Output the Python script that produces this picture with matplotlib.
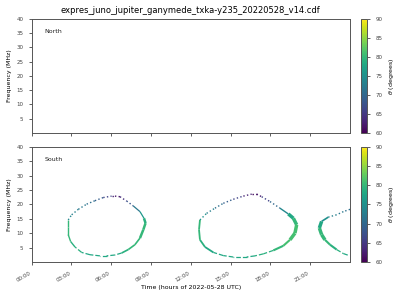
import matplotlib.pyplot as plt
import numpy as np
from matplotlib.collections import LineCollection
from matplotlib.cm import ScalarMappable
from matplotlib.colors import Normalize

title = 'expres_juno_jupiter_ganymede_txka-y235_20220528_v14.cdf'
hemispheres = ['North', 'South']
tick_hours = [0, 3, 6, 9, 12, 15, 18, 21]
tick_labels = ['00:00', '03:00', '06:00', '09:00', '12:00', '15:00', '18:00', '21:00']
freq_ticks = [5, 10, 15, 20, 25, 30, 35, 40]
theta_ticks = [60, 65, 70, 75, 80, 85, 90]

# South hemisphere arcs (time in hours, frequency in MHz, theta in degrees)
loop1_t = [2.76, 3.02, 3.52, 4.15, 4.77, 5.40, 6.03, 6.28, 6.66, 7.16, 7.66, 8.17,
           8.47, 8.59, 8.42, 8.17, 7.79, 7.29, 6.79, 6.28, 5.65, 5.15, 4.40, 3.77,
           3.27, 2.94, 2.76, 2.76, 2.76]
loop1_f = [14.6, 16.4, 18.3, 20.1, 21.3, 22.4, 22.9, 22.9, 22.7, 21.2, 19.5, 17.5,
           15.2, 13.5, 11.2, 8.3, 6.0, 4.3, 3.1, 2.4, 2.1, 2.1, 2.5, 3.3,
           5.2, 7.1, 9.5, 12.3, 14.6]
loop1_th = [74, 73, 72, 71, 69, 66, 63, 62, 64, 68, 72, 76,
            79, 80, 80, 80, 80, 79, 78, 78, 78, 78, 78, 79,
            79, 80, 80, 80, 80]

loop2_t = [12.69, 13.19, 13.82, 14.45, 15.20, 15.96, 16.59, 16.96, 17.34, 17.97, 18.72,
           19.35, 19.73, 19.98, 19.85, 19.48, 18.97, 18.22, 17.47, 16.84, 16.21,
           15.20, 14.45, 13.70, 13.07, 12.69, 12.62, 12.69]
loop2_f = [14.6, 16.9, 18.7, 20.4, 21.8, 22.9, 23.6, 23.6, 22.7, 21.0, 18.7,
           16.7, 15.2, 12.9, 10.0, 7.7, 5.6, 4.0, 2.8, 2.1, 1.7,
           1.7, 2.2, 3.3, 5.2, 7.7, 11.2, 14.6]
loop2_th = [75, 73, 71, 69, 66, 63, 61, 62, 66, 70, 74,
            78, 80, 81, 81, 81, 80, 79, 79, 78, 78,
            78, 78, 78, 79, 80, 80, 80]

loop3_t = [24.00, 23.50, 22.99, 22.37, 21.86, 21.69, 21.86, 22.11, 22.49, 22.99, 23.50, 23.87]
loop3_f = [18.3, 17.5, 16.4, 15.6, 14.1, 11.8, 9.5, 7.7, 6.0, 4.3, 2.9, 2.3]
loop3_th = [71, 72, 73, 75, 78, 80, 80, 80, 79, 79, 78, 78]

# segment styles (linestyle, width) per loop
loop1_style = ([(':', 1.0)] * 7 + [(':', 1.0)] * 3 + [('-', 0.9)] * 2 + [('-', 1.8)] * 3
               + [('-', 1.2)] * 3 + [('--', 0.9)] * 6 + [('-', 1.0)] * 4)
loop2_style = ([(':', 1.0)] * 8 + [(':', 1.0)] * 2 + [('-', 1.0)] * 1 + [('-', 2.5)] * 4
               + [('-', 1.5)] * 2 + [('--', 0.9)] * 6 + [('-', 1.3)] * 4)
loop3_style = ([(':', 1.0)] * 3 + [('-', 1.2)] * 1 + [('-', 2.5)] * 3 + [('-', 1.5)] * 2
               + [('--', 0.9)] * 2)

cmap = plt.get_cmap('viridis')
norm = Normalize(60, 90)

plt.rcParams['font.size'] = 4
plt.rcParams['axes.edgecolor'] = '#555555'
plt.rcParams['xtick.color'] = '#444444'
plt.rcParams['ytick.color'] = '#444444'
plt.rcParams['xtick.major.size'] = 2.5
plt.rcParams['ytick.major.size'] = 2.5
plt.rcParams['xtick.major.width'] = 0.6
plt.rcParams['ytick.major.width'] = 0.6
plt.rcParams['axes.linewidth'] = 0.7

fig = plt.figure(figsize=(4, 3), dpi=100)
axes = [fig.add_axes([0.079, 0.557, 0.796, 0.38]),
        fig.add_axes([0.079, 0.127, 0.796, 0.383])]
caxes = [fig.add_axes([0.9025, 0.557, 0.016, 0.38]),
         fig.add_axes([0.9025, 0.127, 0.016, 0.383])]

loops = [(loop1_t, loop1_f, loop1_th, loop1_style),
         (loop2_t, loop2_f, loop2_th, loop2_style),
         (loop3_t, loop3_f, loop3_th, loop3_style)]

for t, f, th, style in loops:
    pts = np.column_stack([t, f])
    segs = [pts[i:i + 2] for i in range(len(pts) - 1)]
    cols = [cmap(norm(th[i])) for i in range(len(segs))]
    lc = LineCollection(segs, colors=cols,
                        linestyles=[s[0] for s in style[:len(segs)]],
                        linewidths=[s[1] for s in style[:len(segs)]],
                        capstyle='butt')
    axes[1].add_collection(lc)

for ax, cax, name in zip(axes, caxes, hemispheres):
    ax.set_xlim(0, 24)
    ax.set_ylim(0, 40)
    ax.set_xticks(tick_hours)
    ax.set_yticks(freq_ticks)
    ax.set_ylabel('Frequency (MHz)', fontsize=4.5, labelpad=3)
    ax.text(0.04, 0.88, name, transform=ax.transAxes, fontsize=4.5, color='#222222')
    cb = fig.colorbar(ScalarMappable(norm=norm, cmap=cmap), cax=cax)
    cb.set_ticks(theta_ticks)
    cb.set_label(r'$\theta$ (degrees)', fontsize=4.5, labelpad=3)
    cb.outline.set_edgecolor('#555555')
    cb.outline.set_linewidth(0.7)

axes[0].set_xticklabels([])
axes[1].set_xticklabels(tick_labels, rotation=30, ha='right')
axes[1].set_xlabel('Time (hours of 2022-05-28 UTC)', fontsize=4.5, labelpad=2)
axes[0].set_title(title, fontsize=6, pad=4)

fig.savefig('out.png', dpi=100)
